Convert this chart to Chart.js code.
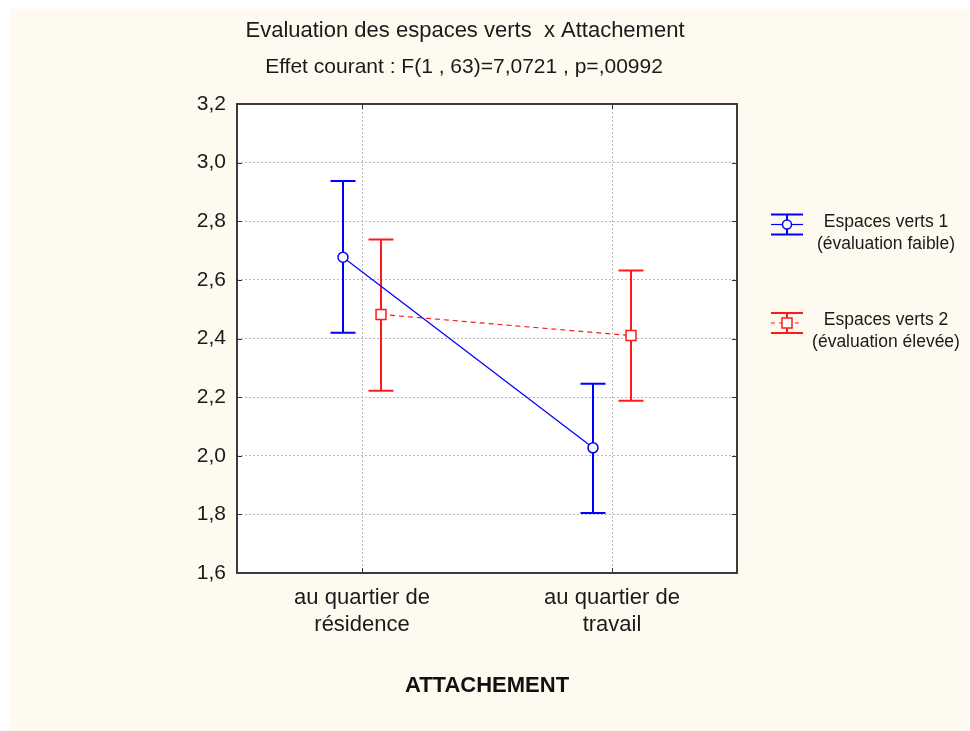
<!DOCTYPE html>
<html>
<head>
<meta charset="utf-8">
<script src="https://cdn.jsdelivr.net/npm/chart.js@4.4.1/dist/chart.umd.min.js"></script>
<style>
  html, body { margin: 0; padding: 0; background: #ffffff; }
  #wrap { width: 970px; height: 731px; }
</style>
</head>
<body>
<div id="wrap"><canvas id="chart" width="970" height="731"></canvas></div>
<script>
// categories of ATTACHEMENT
const categories = [['au quartier de', 'résidence'], ['au quartier de', 'travail']];

// Espaces verts 1 (évaluation faible)
const mean1 = [2.677, 2.027];
const low1 = [2.420, 1.805];
const high1 = [2.937, 2.246];

// Espaces verts 2 (évaluation élevée)
const mean2 = [2.482, 2.410];
const low2 = [2.222, 2.188];
const high2 = [2.738, 2.632];

const yTicks = [1.6, 1.8, 2.0, 2.2, 2.4, 2.6, 2.8, 3.0, 3.2];

const titleText = 'Evaluation des espaces verts  x Attachement';
const subtitleText = 'Effet courant : F(1 , 63)=7,0721 , p=,00992';
const legendLabels = [['Espaces verts 1', '(évaluation faible)'], ['Espaces verts 2', '(évaluation élevée)']];

const FONT = "'Liberation Sans', Arial, sans-serif";
const BLUE = '#0000ff';
const RED = '#ff1a1a';
const shift = 0.076; // horizontal offset of each group inside a category

function pts(means, dir) {
    return means.map((v, i) => ({ x: i + 0.5 + dir * shift, y: v }));
}

const errorSets = [
    { low: low1, high: high1, color: BLUE, dir: -1 },
    { low: low2, high: high2, color: RED, dir: 1 }
];

const decor = {
    id: 'decor',
    beforeDraw(chart) {
        const ctx = chart.ctx;
        const a = chart.chartArea;
        ctx.save();
        ctx.fillStyle = '#ffffff';
        ctx.fillRect(0, 0, chart.width, chart.height);
        ctx.fillStyle = '#fffaef';
        ctx.fillRect(10, 9, chart.width - 12, chart.height - 9);
        ctx.fillStyle = '#ffffff';
        ctx.fillRect(a.left, a.top, a.right - a.left, a.bottom - a.top);
        ctx.restore();
    },
    beforeDatasetsDraw(chart) {
        // error bars, under the markers
        const ctx = chart.ctx;
        const xs = chart.scales.x, ys = chart.scales.y;
        ctx.save();
        ctx.lineWidth = 2;
        errorSets.forEach(s => {
            ctx.strokeStyle = s.color;
            s.low.forEach((lo, i) => {
                const px = Math.round(xs.getPixelForValue(i + 0.5 + s.dir * shift));
                const pl = ys.getPixelForValue(lo);
                const ph = ys.getPixelForValue(s.high[i]);
                ctx.beginPath();
                ctx.moveTo(px, pl); ctx.lineTo(px, ph);
                ctx.moveTo(px - 12.5, ph); ctx.lineTo(px + 12.5, ph);
                ctx.moveTo(px - 12.5, pl); ctx.lineTo(px + 12.5, pl);
                ctx.stroke();
            });
        });
        ctx.restore();
    },
    afterDraw(chart) {
        const ctx = chart.ctx;
        const a = chart.chartArea;
        const xs = chart.scales.x, ys = chart.scales.y;
        ctx.save();
        // inner tick marks
        ctx.strokeStyle = '#333333';
        ctx.lineWidth = 1;
        ctx.beginPath();
        yTicks.forEach(v => {
            const py = Math.round(ys.getPixelForValue(v)) + 0.5;
            ctx.moveTo(a.left, py); ctx.lineTo(a.left + 5, py);
            ctx.moveTo(a.right, py); ctx.lineTo(a.right - 5, py);
        });
        categories.forEach((c, i) => {
            const px = Math.round(xs.getPixelForValue(i + 0.5)) + 0.5;
            ctx.moveTo(px, a.top); ctx.lineTo(px, a.top + 5);
            ctx.moveTo(px, a.bottom); ctx.lineTo(px, a.bottom - 5);
        });
        ctx.stroke();
        // frame
        ctx.strokeStyle = '#3c3c3c';
        ctx.lineWidth = 2;
        ctx.strokeRect(a.left, a.top, a.right - a.left, a.bottom - a.top);

        // titles
        ctx.fillStyle = '#1a1a1a';
        ctx.textAlign = 'center';
        ctx.textBaseline = 'middle';
        ctx.font = '22px ' + FONT;
        ctx.fillText(titleText, 465, 31);
        ctx.font = '21px ' + FONT;
        ctx.fillText(subtitleText, 464, 67);

        // legend
        const items = [
            { color: BLUE, y: 224.5, dash: [], marker: 'circle' },
            { color: RED, y: 323, dash: [4, 4], marker: 'rect' }
        ];
        items.forEach((it, k) => {
            const x0 = 771, x1 = 803, xc = 787;
            ctx.strokeStyle = it.color;
            ctx.lineWidth = 2;
            ctx.setLineDash([]);
            ctx.beginPath();
            ctx.moveTo(x0, it.y - 10); ctx.lineTo(x1, it.y - 10);
            ctx.moveTo(x0, it.y + 10); ctx.lineTo(x1, it.y + 10);
            ctx.moveTo(xc, it.y - 10); ctx.lineTo(xc, it.y + 10);
            ctx.stroke();
            ctx.lineWidth = 1.2;
            ctx.setLineDash(it.dash);
            ctx.beginPath();
            ctx.moveTo(x0, it.y); ctx.lineTo(x1, it.y);
            ctx.stroke();
            ctx.setLineDash([]);
            ctx.fillStyle = '#ffffff';
            ctx.lineWidth = 1.5;
            ctx.beginPath();
            if (it.marker === 'circle') ctx.arc(xc, it.y, 4.5, 0, Math.PI * 2);
            else ctx.rect(xc - 5, it.y - 5, 10, 10);
            ctx.fill();
            ctx.stroke();

            ctx.fillStyle = '#1a1a1a';
            ctx.font = '17.5px ' + FONT;
            ctx.textAlign = 'center';
            ctx.fillText(legendLabels[k][0], 886, it.y - 2.5);
            ctx.fillText(legendLabels[k][1], 886, it.y + 19.5);
        });
        ctx.restore();
    }
};

const ctx = document.getElementById('chart').getContext('2d');
new Chart(ctx, {
    type: 'line',
    data: {
        datasets: [{
            label: 'Espaces verts 1 (évaluation faible)',
            data: pts(mean1, -1),
            borderColor: BLUE,
            borderWidth: 1.2,
            pointStyle: 'circle',
            pointRadius: 5,
            pointBorderWidth: 1.5,
            pointBackgroundColor: '#ffffff',
            pointBorderColor: BLUE
        }, {
            label: 'Espaces verts 2 (évaluation élevée)',
            data: pts(mean2, 1),
            borderColor: RED,
            borderWidth: 1.2,
            borderDash: [5, 4],
            pointStyle: 'rect',
            pointRadius: 7,
            pointBorderWidth: 1.5,
            pointBackgroundColor: '#ffffff',
            pointBorderColor: RED
        }]
    },
    options: {
        responsive: false,
        animation: false,
        layout: { padding: { top: 104, right: 233, bottom: 32, left: 0 } },
        plugins: {
            legend: { display: false },
            title: { display: false },
            tooltip: { enabled: false }
        },
        scales: {
            x: {
                type: 'linear',
                min: 0,
                max: 2,
                afterFit: s => { s.height = 126; },
                afterBuildTicks: s => { s.ticks = categories.map((c, i) => ({ value: i + 0.5 })); },
                ticks: {
                    padding: 11.5,
                    color: '#1a1a1a',
                    font: { family: FONT, size: 22, lineHeight: 1.22 },
                    maxRotation: 0,
                    callback: (v, i) => categories[i]
                },
                grid: { color: '#b8b8b8', drawTicks: false },
                border: { display: false, dash: [2, 2] },
                title: {
                    display: true,
                    text: 'ATTACHEMENT',
                    color: '#111111',
                    padding: 0,
                    font: { family: FONT, size: 22, weight: 'bold' }
                }
            },
            y: {
                min: 1.6,
                max: 3.2,
                afterFit: s => { s.width = 237; },
                afterBuildTicks: s => { s.ticks = yTicks.map(v => ({ value: v })); },
                ticks: {
                    padding: 11,
                    color: '#1a1a1a',
                    font: { family: FONT, size: 21 },
                    callback: v => v.toFixed(1).replace('.', ',')
                },
                grid: { color: '#b8b8b8', drawTicks: false },
                border: { display: false, dash: [2, 2] }
            }
        }
    },
    plugins: [decor]
});
</script>
</body>
</html>
